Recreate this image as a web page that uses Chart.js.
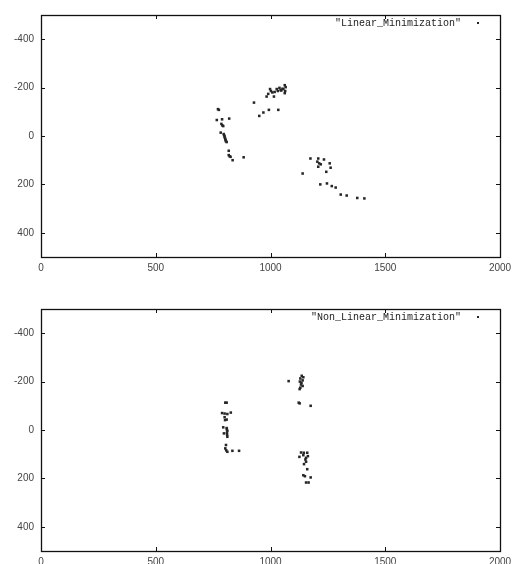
<!DOCTYPE html>
<html>
<head>
<meta charset="utf-8">
<script src="https://cdn.jsdelivr.net/npm/chart.js@4"></script>
<style>
  html, body { margin: 0; padding: 0; background: #fff; overflow: hidden; }
  body { width: 515px; height: 564px; position: relative; }
  .box { position: absolute; left: 0; width: 515px; height: 282px; }
</style>
</head>
<body>
<div class="box" style="top:0"><canvas id="linChart"></canvas></div>
<div class="box" style="top:294px"><canvas id="nonChart"></canvas></div>
<script>
// Axis ticks
const xTicks = [0, 500, 1000, 1500, 2000];
const yTicks = [-400, -200, 0, 200, 400];

// Linear minimization points
const linLabel = '"Linear_Minimization"';
const linX = [771, 775, 766, 789, 820, 786, 790, 794, 783, 796, 798, 800, 801, 803, 804, 806, 809, 818, 818, 822, 826, 835, 883,
    928, 951, 969, 993, 1034,
    983, 990, 998, 1002, 1008, 1015, 1018, 1027, 1032, 1039, 1044, 1047, 1052, 1056, 1062, 1066, 1062, 1064,
    1174, 1208, 1233, 1204, 1212, 1219, 1208, 1258, 1262, 1243, 1140, 1217, 1246, 1267, 1284, 1306, 1332, 1378, 1409];
const linY = [-111, -108, -66, -69, -72, -50, -44, -41, -14, -8, -3, 2, 7, 12, 17, 22, 25, 61, 79, 84, 86, 100, 88,
    -138, -83, -97, -108, -108,
    -163, -174, -194, -186, -180, -163, -182, -194, -186, -199, -190, -188, -195, -194, -210, -202, -177, -186,
    93, 93, 97, 106, 113, 117, 127, 113, 131, 148, 155, 200, 196, 207, 213, 242, 246, 256, 258];

// Non linear minimization points
const nonLabel = '"Non_Linear_Minimization"';
const nonX = [803, 809, 789, 800, 812, 827, 800, 802, 809, 794, 809, 810, 812, 810, 797, 811, 812, 806, 803, 807, 812, 834, 863,
    1079, 1136, 1143, 1130, 1140, 1128, 1135, 1133, 1140, 1130, 1127, 1123, 1127, 1175,
    1133, 1145, 1160, 1126, 1143, 1155, 1163, 1152, 1155, 1146, 1160, 1143, 1150, 1175, 1155, 1166];
const nonY = [-113, -113, -70, -68, -66, -72, -53, -41, -43, -11, -8, -2, 4, 12, 14, 20, 28, 62, 76, 84, 90, 86, 86,
    -202, -224, -218, -213, -205, -200, -195, -188, -182, -175, -169, -113, -110, -100,
    93, 94, 94, 111, 104, 115, 108, 122, 131, 141, 162, 187, 191, 196, 217, 217];

const ink = '#262626';

// Frame, inward ticks and the key
const framePlugin = {
    id: 'frame',
    afterDraw(chart) {
        const ctx = chart.ctx;
        const a = chart.chartArea;
        const xs = chart.scales.x;
        const ys = chart.scales.y;
        ctx.save();
        ctx.strokeStyle = '#111';
        ctx.lineWidth = 1.3;
        ctx.strokeRect(a.left + 0.5, a.top + 0.5, a.right - a.left, a.bottom - a.top);

        ctx.lineWidth = 1;
        ctx.beginPath();
        xTicks.forEach(v => {
            let px = Math.round(xs.getPixelForValue(v)) + 0.5;
            ctx.moveTo(px, a.bottom); ctx.lineTo(px, a.bottom - 4);
            ctx.moveTo(px, a.top); ctx.lineTo(px, a.top + 4);
        });
        yTicks.forEach(v => {
            let py = Math.round(ys.getPixelForValue(v)) + 0.5;
            ctx.moveTo(a.left, py); ctx.lineTo(a.left + 4, py);
            ctx.moveTo(a.right, py); ctx.lineTo(a.right - 4, py);
        });
        ctx.stroke();

        // key
        const ds = chart.data.datasets[0];
        ctx.fillStyle = '#222';
        ctx.font = '10px "Liberation Mono"';
        ctx.textAlign = 'right';
        ctx.textBaseline = 'middle';
        ctx.fillText(ds.label, a.right - 39, a.top + 8);
        ctx.fillStyle = ink;
        ctx.fillRect(a.right - 23, a.top + 7, 2, 2);
        ctx.restore();
    }
};

function makeChart(id, label, xs, ys) {
    let pts = xs.map((x, i) => ({ x: x, y: ys[i] }));
    return new Chart(document.getElementById(id), {
        type: 'scatter',
        data: {
            datasets: [{
                label: label,
                data: pts,
                pointStyle: 'rect',
                pointRadius: 1.8,
                pointHoverRadius: 1.8,
                backgroundColor: ink,
                borderColor: ink,
                borderWidth: 0
            }]
        },
        options: {
            responsive: false,
            animation: false,
            maintainAspectRatio: false,
            layout: { padding: { top: 15, right: 15, left: 0, bottom: 0 } },
            plugins: { legend: { display: false }, tooltip: { enabled: false } },
            scales: {
                x: {
                    type: 'linear',
                    min: 0, max: 2000,
                    grid: { display: false, drawTicks: false },
                    border: { display: false },
                    afterBuildTicks: s => { s.ticks = xTicks.map(v => ({ value: v })); },
                    afterFit: s => { s.height = 25; s.paddingLeft = 0; s.paddingRight = 0; },
                    ticks: {
                        padding: 5,
                        maxRotation: 0,
                        color: '#444',
                        callback: v => String(v),
                        font: { family: '"Liberation Sans"', size: 10 }
                    }
                },
                y: {
                    type: 'linear',
                    reverse: true,
                    min: -500, max: 500,
                    grid: { display: false, drawTicks: false },
                    border: { display: false },
                    afterBuildTicks: s => { s.ticks = yTicks.map(v => ({ value: v })); },
                    afterFit: s => { s.width = 41; s.paddingTop = 0; s.paddingBottom = 0; },
                    ticks: {
                        padding: 7,
                        color: '#444',
                        callback: v => String(v),
                        font: { family: '"Liberation Sans"', size: 10 }
                    }
                }
            }
        },
        plugins: [framePlugin]
    });
}

// set canvas size explicitly
['linChart', 'nonChart'].forEach(id => {
    let c = document.getElementById(id);
    c.width = 515; c.height = 282;
    c.style.width = '515px'; c.style.height = '282px';
});

makeChart('linChart', linLabel, linX, linY);
makeChart('nonChart', nonLabel, nonX, nonY);
</script>
</body>
</html>
